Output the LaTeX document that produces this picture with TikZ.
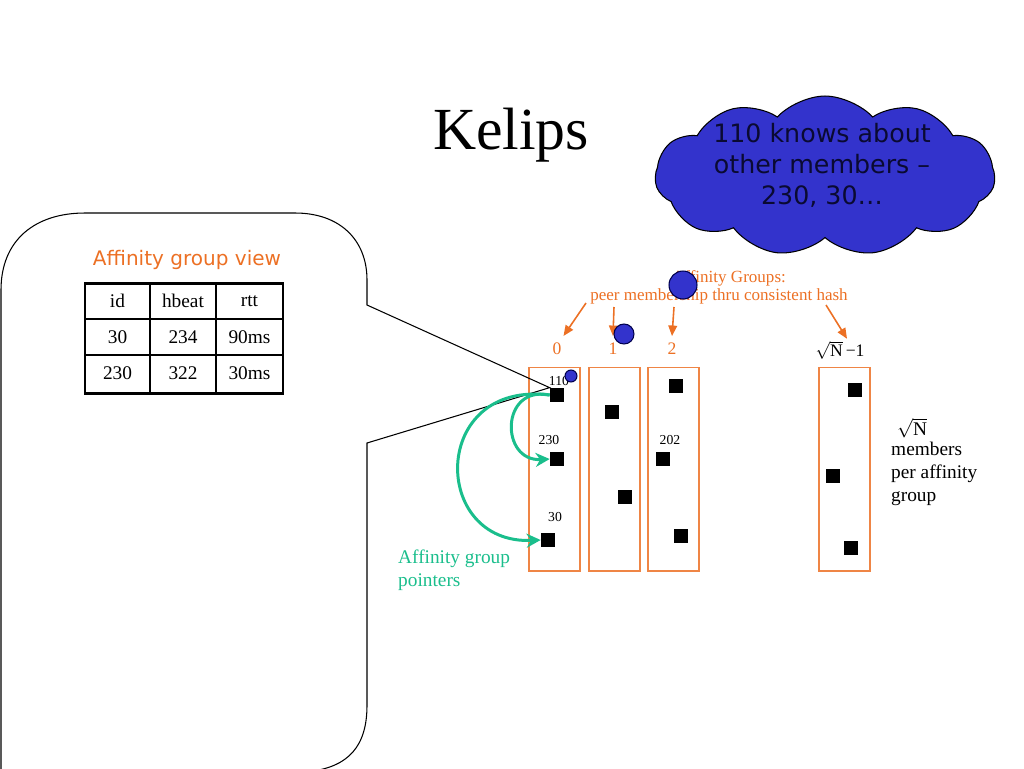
\documentclass[tikz,border=0pt]{standalone}
\usepackage{fontspec}
\setmainfont{Liberation Serif}
\newfontfamily\tahoma{DejaVu Sans}
\usetikzlibrary{shapes.symbols,arrows.meta}
\definecolor{grporange}{RGB}{236,112,36}
\definecolor{ptrgreen}{RGB}{26,190,140}
\definecolor{nodeblue}{RGB}{51,51,204}
\definecolor{cloudink}{RGB}{10,10,50}
\tikzset{
  member/.style={fill=black, minimum size=0.28cm, inner sep=0pt},
  grpbox/.style={draw=grporange!85, line width=0.6pt, minimum width=1.02cm, minimum height=4.08cm},
  grplabel/.style={text=grporange, inner sep=1pt, font=\fontsize{10}{12}\selectfont},
  grparrow/.style={draw=grporange, line width=0.9pt, -{Triangle[length=6pt,width=5pt]}},
  ptr/.style={draw=ptrgreen, line width=1.7pt, -{Stealth[length=8pt,width=8pt]}},
  bluedot/.style={circle, fill=nodeblue, draw=black!70!blue, line width=0.6pt, inner sep=0pt},
  idlabel/.style={inner sep=0pt, font=\fontsize{7.8}{9}\selectfont}
}
\begin{document}
\begin{tikzpicture}[x=0.02cm, y=-0.02cm]
  \useasboundingbox (0,0) rectangle (1024,768);

  % Title
  \node[font=\fontsize{34}{40}\selectfont] (title) at (511,135) {Kelips};

  % Cloud
  \node[cloud, cloud puffs=11, cloud puff arc=95, aspect=2.1, draw=black, fill=nodeblue,
        line width=0.6pt, minimum width=6.8cm, minimum height=3.2cm] (cloud) at (825,176) {};
  \node[align=center, text=cloudink, font=\tahoma\fontsize{14.4}{17.6}\selectfont] (cloudtext) at (822,165)
    {110 knows about\\other members –\\230, 30…};

  % Affinity groups
  \node[grpbox] (g0) at (554.5,469) {};
  \node[grpbox] (g1) at (614.5,469) {};
  \node[grpbox] (g2) at (673.5,469) {};
  \node[grpbox] (gN) at (844.5,469) {};

  \node[grplabel] (lab0) at (557,349) {0};
  \node[grplabel] (lab1) at (613,349) {1};
  \node[grplabel] (lab2) at (672,349) {2};
  \node[inner sep=1pt, font=\fontsize{10}{12}\selectfont] (labN) at (840,350) {$\sqrt{\mbox{N}}$\,−1};

  % Members
  \node[member] (m01) at (557,395) {};
  \node[member] (m02) at (557,459) {};
  \node[member] (m03) at (548,540) {};
  \node[member] (m11) at (612,412) {};
  \node[member] (m12) at (625,497) {};
  \node[member] (m21) at (676,386) {};
  \node[member] (m22) at (663,459) {};
  \node[member] (m23) at (681,536) {};
  \node[member] (mN1) at (855,390) {};
  \node[member] (mN2) at (833,476) {};
  \node[member] (mN3) at (851,548) {};

  \node[idlabel] (id110) at (559,381) {110};
  \node[idlabel] (id230) at (549,440) {230};
  \node[idlabel] (id30) at (555,517) {30};
  \node[idlabel] (id202) at (670,440) {202};

  % Hash text and arrows
  \node[text=grporange, font=\fontsize{9.7}{11}\selectfont] (hash1) at (729,278) {Affinity Groups:};
  \node[text=grporange, font=\fontsize{9.7}{11}\selectfont] (hash2) at (719,296) {peer membership thru consistent hash};
  \coordinate (src0) at (586,303);
  \coordinate (src1) at (614,307);
  \coordinate (src2) at (674,307);
  \coordinate (srcN) at (826,305);
  \draw[grparrow] (src0) -- ([yshift=0.1cm]lab0.north east);
  \draw[grparrow] (src1) -- ([yshift=0.1cm]lab1.north);
  \draw[grparrow] (src2) -- ([yshift=0.1cm]lab2.north);
  \draw[grparrow] (srcN) -- ([xshift=0.14cm]labN.north);

  \node[bluedot, minimum size=0.56cm] (dot1) at (683,285) {};
  \node[bluedot, minimum size=0.4cm] (dot2) at (624,334) {};
  \node[bluedot, minimum size=0.24cm] (dot3) at (571,376) {};

  % Callout with the view of 110
  \draw[line width=0.6pt] (1,775) -- (1,290) .. controls (1,240) and (35,213) .. (85,213) -- (295,213)
    .. controls (340,213) and (367,240) .. (367,280) -- (367,305) -- (m01.north west) -- (367,443)
    -- (367,705) .. controls (367,745) and (350,768) .. (305,772);
  \node[text=grporange, font=\tahoma\fontsize{11.4}{13}\selectfont] (viewtitle) at (187,260) {Affinity group view};
  \draw[line width=0.8pt] (150,283) -- (150,393) (216,283) -- (216,393)
    (85,319) -- (283,319) (85,355) -- (283,355);
  \draw[line width=1.7pt] (85,283) rectangle (283,393);
  \foreach \a/\b/\c [count=\r] in {id/hbeat/rtt, 30/234/90ms, 230/322/30ms} {
    \node[font=\fontsize{11}{13}\selectfont] (cell\r-1) at (117.5,265+36*\r) {\a};
    \node[font=\fontsize{11}{13}\selectfont] (cell\r-2) at (183,265+36*\r) {\b};
    \node[font=\fontsize{11}{13}\selectfont] (cell\r-3) at (249.5,265+36*\r) {\c};
  }

  % Pointers
  \draw[ptr] (m01.west) .. controls (430,380) and (430,545) .. (m03.west);
  \draw[ptr] (m01.west) .. controls (500,385) and (500,462) .. (m02.west);
  \node[anchor=west, align=left, text=ptrgreen, font=\fontsize{11}{13}\selectfont] (ptrtext) at (392,570)
    {Affinity group\\pointers};

  % Group size
  \node[anchor=west, inner sep=1pt, font=\fontsize{11}{13}\selectfont] (sqrtn) at (895,428) {$\sqrt{\mbox{N}}$};
  \node[anchor=west, align=left, font=\fontsize{11}{13}\selectfont] (persize) at (885,474)
    {members\\per affinity\\group};
\end{tikzpicture}
\end{document}
